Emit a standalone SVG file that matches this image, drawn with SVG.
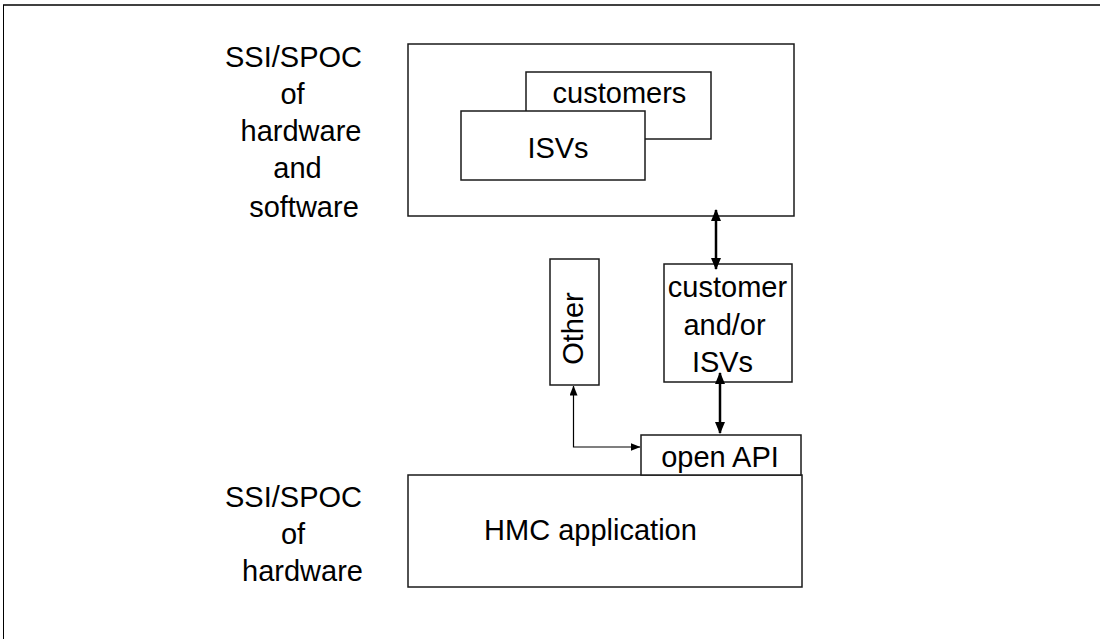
<svg xmlns="http://www.w3.org/2000/svg" width="1100" height="639" viewBox="0 0 1100 639">
<style>
text{font-family:"Liberation Sans",Arial,sans-serif;font-size:29px;fill:#000}
.box{fill:#fff;stroke:#1a1a1a;stroke-width:1.5}
.thick{stroke:#000;stroke-width:2.5;fill:none}
.thin{stroke:#000;stroke-width:1.2;fill:none}
</style>
<defs>
<marker id="hb" markerUnits="userSpaceOnUse" viewBox="0 0 12 10" refX="11" refY="5" markerWidth="12" markerHeight="10" orient="auto-start-reverse"><path d="M0,0 L12,5 L0,10 z" fill="#000"/></marker>
<marker id="hs" markerUnits="userSpaceOnUse" viewBox="0 0 10 8" refX="9.5" refY="4" markerWidth="10" markerHeight="8" orient="auto-start-reverse"><path d="M0,0 L10,4 L0,8 z" fill="#000"/></marker>
</defs>
<rect width="1100" height="639" fill="#fff"/>
<g id="frame">
<line x1="3" y1="5" x2="1100" y2="5" stroke="#000" stroke-width="1.5"/>
<line x1="3.5" y1="5" x2="3.5" y2="639" stroke="#000" stroke-width="1"/>
</g>
<g id="label-top">
<text x="293.5" y="67" text-anchor="middle">SSI/SPOC</text>
<text x="292.5" y="104" text-anchor="middle">of</text>
<text x="301" y="141" text-anchor="middle">hardware</text>
<text x="297.5" y="178" text-anchor="middle">and</text>
<text x="304" y="217" text-anchor="middle">software</text>
</g>
<g id="label-bottom">
<text x="293.5" y="507" text-anchor="middle">SSI/SPOC</text>
<text x="293" y="544" text-anchor="middle">of</text>
<text x="302.5" y="581" text-anchor="middle">hardware</text>
</g>
<g id="node-top">
<rect class="box" x="408" y="44" width="386" height="172"/>
</g>
<g id="node-customers">
<rect class="box" x="526" y="72" width="185" height="67"/>
<text x="619.5" y="103" text-anchor="middle">customers</text>
</g>
<g id="node-isvs">
<rect class="box" x="461" y="111" width="184" height="69"/>
<text x="558" y="158" text-anchor="middle">ISVs</text>
</g>
<g id="node-other">
<rect class="box" x="550" y="259" width="49" height="126"/>
<text transform="translate(583,328.5) rotate(-90)" text-anchor="middle">Other</text>
</g>
<g id="node-customer-isvs">
<rect class="box" x="664" y="264" width="128" height="118"/>
<text x="727.5" y="297" text-anchor="middle">customer</text>
<text x="724.5" y="335" text-anchor="middle">and/or</text>
<text x="722.5" y="372" text-anchor="middle">ISVs</text>
</g>
<g id="node-hmc">
<rect class="box" x="408" y="475" width="394" height="112"/>
<text x="590.5" y="540" text-anchor="middle">HMC application</text>
</g>
<g id="node-openapi">
<rect class="box" x="641" y="435" width="160" height="40"/>
<text x="720" y="467" text-anchor="middle">open API</text>
</g>
<g id="connectors">
<line class="thick" x1="716" y1="210" x2="716" y2="269" marker-start="url(#hb)" marker-end="url(#hb)"/>
<line class="thick" x1="720" y1="373" x2="720" y2="433" marker-start="url(#hb)" marker-end="url(#hb)"/>
<path class="thin" d="M573.5,386 V447 H640" marker-start="url(#hs)" marker-end="url(#hs)"/>
</g>
</svg>
